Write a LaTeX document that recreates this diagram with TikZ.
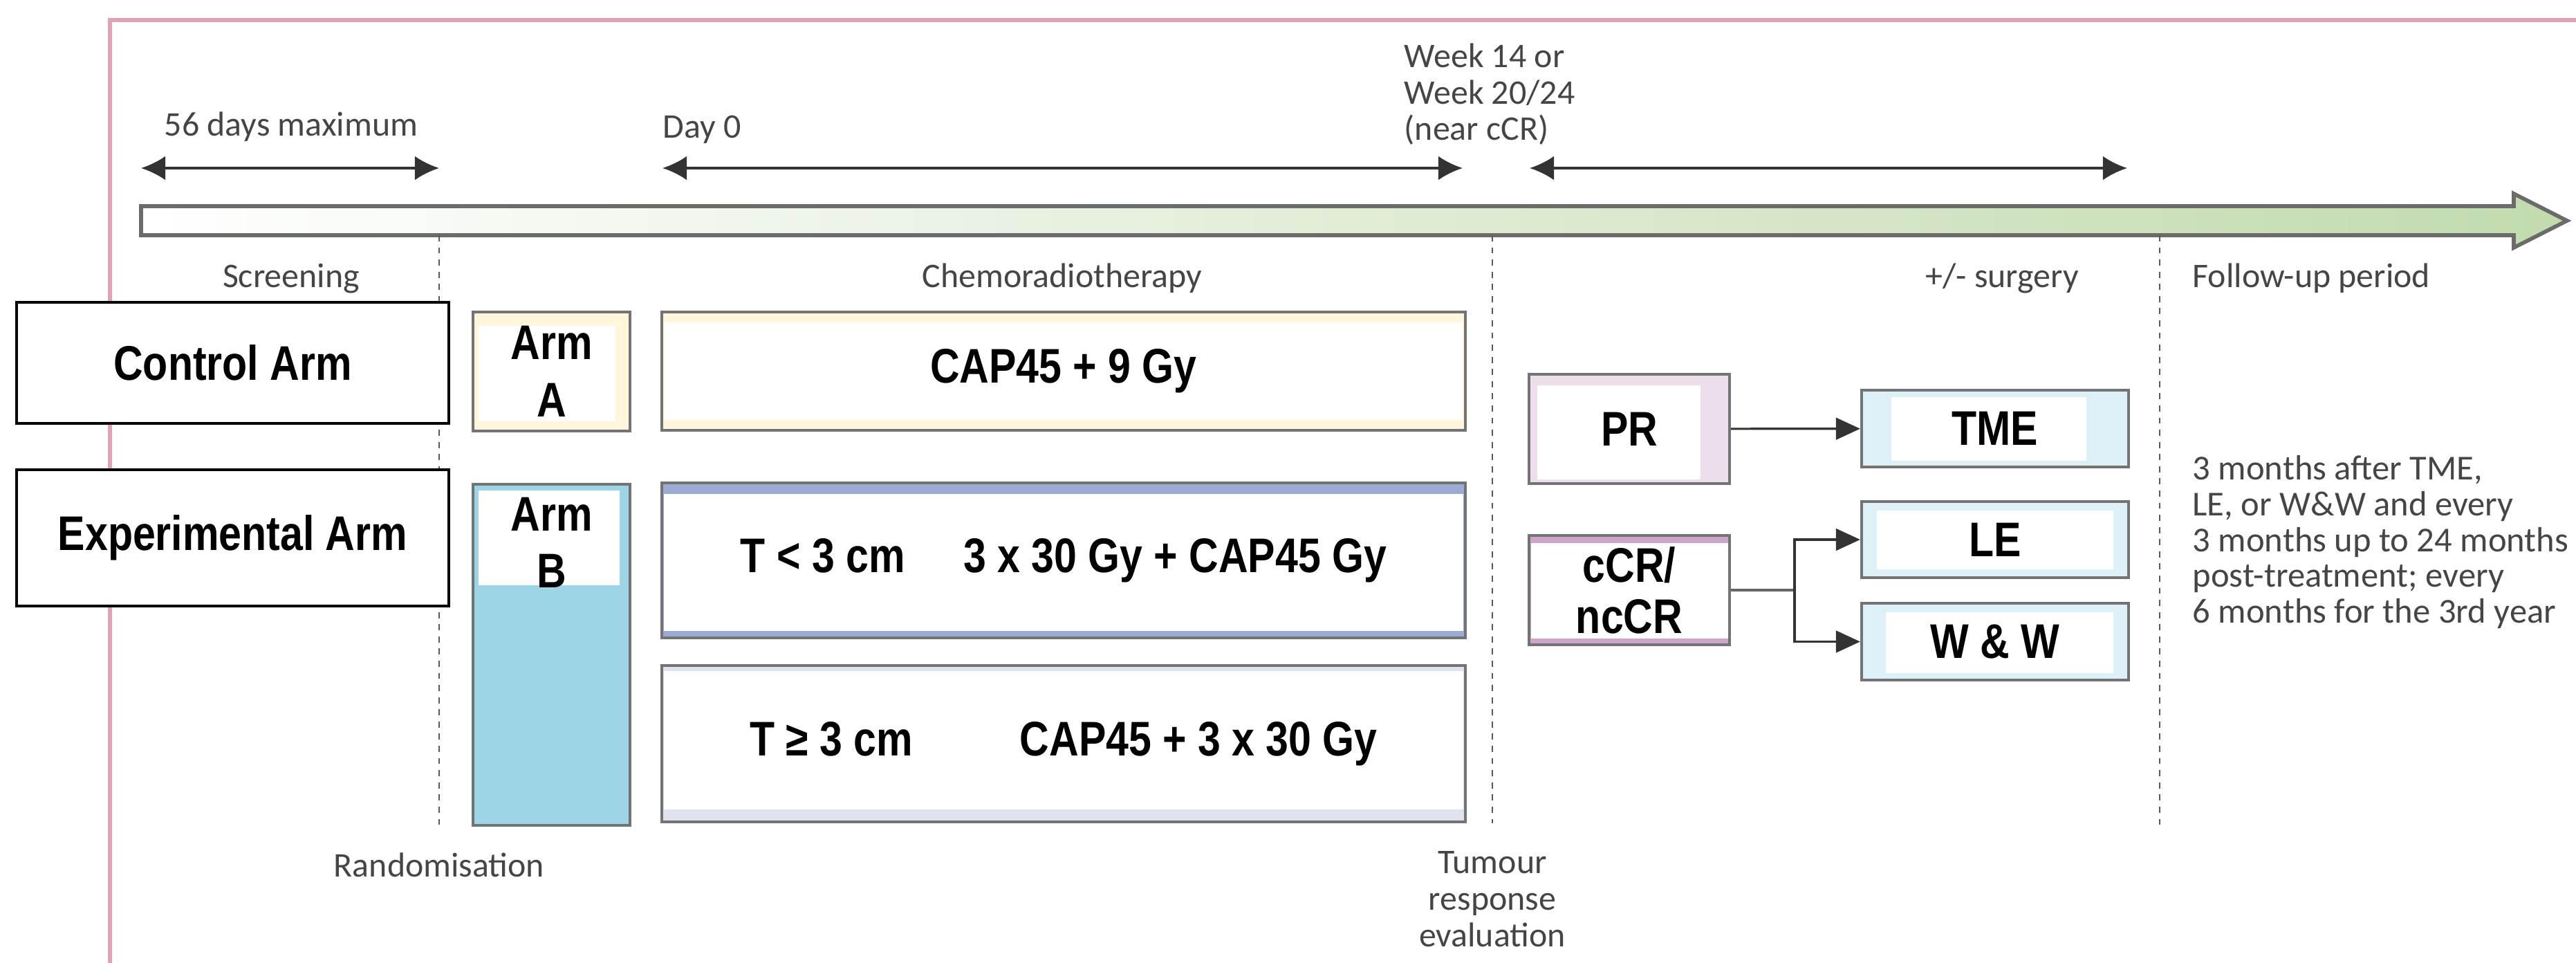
\documentclass[tikz,border=0pt]{standalone}
\usepackage{fontspec}
\setmainfont{Carlito}
\newfontfamily\boxfont[FakeStretch=0.84]{Liberation Sans}
\usetikzlibrary{arrows.meta,positioning}

\definecolor{framepink}{HTML}{E2A2B6}
\definecolor{labelgrey}{HTML}{454545}
\definecolor{barend}{HTML}{C2DBAE}
\definecolor{cream}{HTML}{FFF6DC}
\definecolor{armblue}{HTML}{9DD4E6}
\definecolor{slateband}{HTML}{9CABD4}
\definecolor{paleband}{HTML}{DEE3EF}
\definecolor{prpink}{HTML}{ECDEEA}
\definecolor{ccrband}{HTML}{CDA5C9}
\definecolor{surgblue}{HTML}{DDEFF7}

\begin{document}
\begin{tikzpicture}[
  lbl/.style={font=\fontsize{14.2}{15}\selectfont, text=labelgrey, inner sep=0pt},
  armlabel/.style={draw=black, line width=1.4pt, fill=white, inner sep=0pt,
    minimum width=6.25cm, font=\boxfont\bfseries\fontsize{20}{24}\selectfont},
  txbox/.style={draw=black!55, line width=1.2pt, inner sep=0pt, align=center,
    font=\boxfont\bfseries\fontsize{20}{23.5}\selectfont},
  inset/.style n args={4}{path picture={\fill[white]
    ([shift={(#1,#2)}]path picture bounding box.south west) rectangle
    ([shift={(-#3,-#4)}]path picture bounding box.north east);}},
  spanarr/.style={{Latex[length=10pt,width=10pt]}-{Latex[length=10pt,width=10pt]},
    line width=1.1pt, black!80},
  arr/.style={-{Triangle[length=10pt,width=9pt]}, line width=0.9pt, black!80},
  phase/.style={black!65, line width=0.8pt, dash pattern=on 2.5pt off 2.5pt}
]
\useasboundingbox (0,0) rectangle (37.25,-13.92);

% frame
\draw[framepink, line width=1.5pt] (1.59,-13.92) -- (1.59,-0.29) -- (37.25,-0.29);

% time axis
\shadedraw[left color=white, right color=barend, draw=black!58, line width=1.6pt]
  (2.04,-2.98) -- (36.35,-2.98) -- (36.35,-2.80) -- (37.12,-3.19)
  -- (36.35,-3.58) -- (36.35,-3.40) -- (2.04,-3.40) -- cycle;

% phase boundaries
\draw[phase] (6.35,-3.40) -- (6.35,-11.93);
\draw[phase] (21.58,-3.40) -- (21.58,-11.90);
\draw[phase] (31.23,-3.40) -- (31.23,-11.93);

% time spans
\coordinate (s1) at (2.04,-2.43);  \coordinate (e1) at (6.35,-2.43);
\coordinate (s2) at (9.58,-2.43);  \coordinate (e2) at (21.15,-2.43);
\coordinate (s3) at (22.12,-2.43); \coordinate (e3) at (30.76,-2.43);
\draw[spanarr] (s1) -- (e1);
\draw[spanarr] (s2) -- (e2);
\draw[spanarr] (s3) -- (e3);

\node[lbl, anchor=base] (maxdays) at (4.21,-1.97) {56 days maximum};
\node[lbl, anchor=base west] (day0) at (9.58,-2.00) {Day 0};
\node[lbl, anchor=north west, align=left] (week) at (20.30,-0.62)
  {Week 14 or\\Week 20/24\\(near cCR)};

\node[lbl, anchor=base] (screen) at (4.21,-4.16) {Screening};
\node[lbl, anchor=base] (crt) at (15.36,-4.16) {Chemoradiotherapy};
\node[lbl, anchor=base] (surg) at (28.95,-4.16) {+/- surgery};
\node[lbl, anchor=base west] (follow) at (31.70,-4.16) {Follow-up period};

\node[lbl, anchor=base] (rand) at (6.35,-12.67) {Randomisation};
\node[lbl, anchor=north, align=center] (eval) at (21.58,-12.30)
  {Tumour\\response\\evaluation};

% arms
\node[armlabel, minimum height=1.75cm] (ctrl) at (3.365,-5.245) {Control Arm};
\node[armlabel, minimum height=1.97cm] (expt) at (3.365,-7.775) {Experimental Arm};

\node[txbox, fill=cream, inset={0.08}{0.14}{0.21}{0.20},
  minimum width=2.27cm, minimum height=1.72cm] (armA) at (7.975,-5.37) {Arm\\A};
\node[txbox, fill=armblue, inset={0.08}{3.47}{0.15}{0.09},
  minimum width=2.27cm, minimum height=4.93cm] (armB) at (7.975,-9.465) {};
\node[txbox, draw=none, below=0.19cm of armB.north] (armBtxt) {Arm\\B};

% chemoradiotherapy schedules
\node[txbox, fill=cream, inset={0.04}{0.15}{0.04}{0.15},
  minimum width=11.62cm, minimum height=1.71cm] (crtA) at (15.38,-5.365)
  {CAP45 + 9 Gy};
\node[txbox, fill=slateband, inset={0.03}{0.10}{0.03}{0.16},
  minimum width=11.62cm, minimum height=2.24cm] (crtB1) at (15.38,-8.10)
  {T < 3 cm\hspace{24pt}3 x 30 Gy + CAP45 Gy};
\node[txbox, fill=paleband, inset={0.03}{0.18}{0.03}{0.08},
  minimum width=11.62cm, minimum height=2.26cm] (crtB2) at (15.38,-10.75)
  {T ≥ 3 cm\hspace{44pt}CAP45 + 3 x 30 Gy};

% response and surgery
\node[txbox, fill=prpink, inset={0.12}{0.06}{0.42}{0.16},
  minimum width=2.90cm, minimum height=1.58cm] (pr) at (23.56,-6.20) {PR};
\node[txbox, fill=ccrband, inset={0.03}{0.09}{0.02}{0.11},
  minimum width=2.90cm, minimum height=1.58cm, font=\boxfont\bfseries\fontsize{20}{21}\selectfont]
  (ccr) at (23.56,-8.53) {cCR/\\ncCR};
\node[txbox, fill=surgblue, inset={0.43}{0.09}{0.61}{0.10},
  minimum width=3.86cm, minimum height=1.11cm] (tme) at (28.85,-6.195) {TME};
\node[txbox, fill=surgblue, inset={0.22}{0.12}{0.22}{0.13},
  minimum width=3.86cm, minimum height=1.10cm] (le) at (28.85,-7.80) {LE};
\node[txbox, fill=surgblue, inset={0.35}{0.10}{0.22}{0.13},
  minimum width=3.86cm, minimum height=1.11cm] (ww) at (28.85,-9.275) {W \& W};

\draw[arr] (pr) -- (tme);
\coordinate (fork) at (25.95,-8.53);
\draw[black!60, line width=1.3pt] (ccr) -- (fork);
\draw[arr] (fork) |- (le);
\draw[arr] (fork) |- (ww);

\node[lbl, anchor=north west, align=left, font=\fontsize{14.4}{14.7}\selectfont]
  (fu) at (31.70,-6.58)
  {3 months after TME,\\LE, or W\&W and every\\3 months up to 24 months\\post-treatment; every\\6 months for the 3rd year};
\end{tikzpicture}
\end{document}
